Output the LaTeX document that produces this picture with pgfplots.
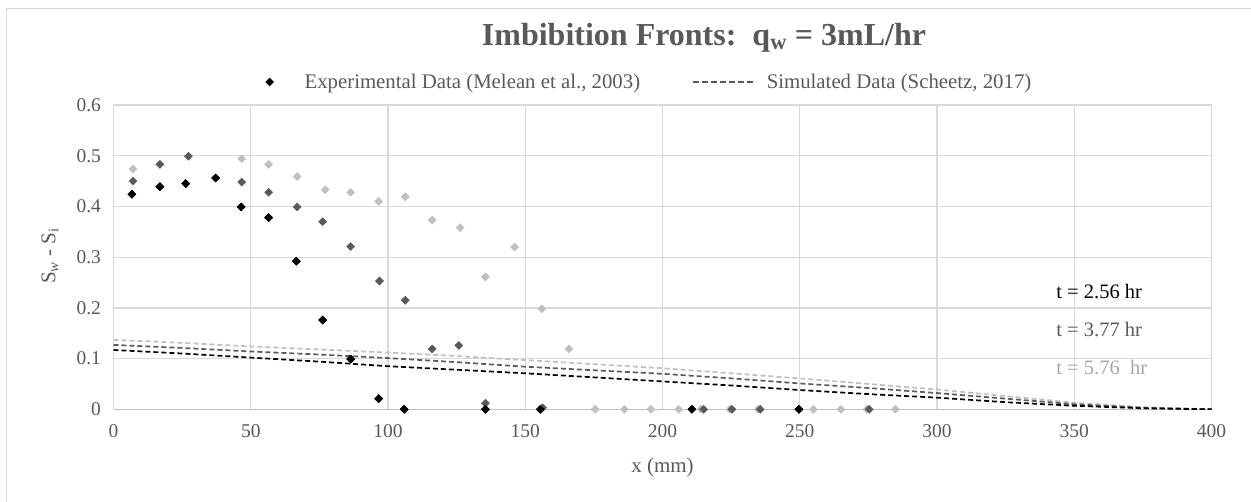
\documentclass[border=0pt]{standalone}
\usepackage{fontspec}
\setmainfont{Liberation Serif}
\usepackage{pgfplots}
\pgfplotsset{compat=1.18}
\definecolor{dg}{HTML}{595959}
\definecolor{lg}{HTML}{BFBFBF}
\definecolor{gridc}{HTML}{D9D9D9}
\definecolor{txt}{HTML}{595959}
\definecolor{mg}{HTML}{A6A6A6}
\pgfplotsset{
  legmark/.style={legend image code/.code={\draw[##1] plot coordinates {(8bp,0bp)}; \path[draw=none] (0bp,0bp) -- (41bp,0bp);}},
  legdash/.style={legend image code/.code={\draw[##1] (0bp,0bp) -- (63bp,0bp); \path[draw=none] (0bp,0bp) -- (72bp,0bp);}},
}
\begin{document}
\begin{tikzpicture}
\useasboundingbox (0,0) rectangle (1251bp,-502bp);
\draw[gridc, line width=1.2bp] (6.5bp,-600bp) -- (6.5bp,-8.5bp) -- (1400bp,-8.5bp);
\node[text=txt, font=\fontsize{32bp}{35bp}\selectfont\bfseries] at (704bp,-38bp) {Imbibition Fronts:\ \ q\textsubscript{w} = 3mL/hr};
\begin{axis}[
 at={(113.5bp,-409.3bp)}, anchor=south west,
 width=1098bp, height=304.3bp, scale only axis,
 xmin=0, xmax=400, ymin=0, ymax=0.6,
 xtick={0,50,100,150,200,250,300,350,400},
 xticklabels={0,50,100,150,200,250,300,350,400},
 ytick={0,0.1,0.2,0.3,0.4,0.5,0.6},
 yticklabels={0,0.1,0.2,0.3,0.4,0.5,0.6},
 grid=major, grid style={gridc, line width=1.3bp},
 major tick length=0pt,
 axis line style={draw=none},
 tick label style={text=txt, font=\fontsize{19.5bp}{22bp}\selectfont},
 yticklabel style={xshift=-9bp},
 xticklabel style={yshift=-12bp},
 xlabel={x (mm)},
 ylabel={S\textsubscript{\textit{w}} - S\textsubscript{i}},
 label style={text=txt, font=\fontsize{21bp}{24bp}\selectfont},
 xlabel style={at={(axis description cs:0.5,-0.19)}, anchor=center},
 ylabel style={at={(axis description cs:-0.0578,0.504)}, anchor=center},
 legend columns=2,
 legend cell align=left,
 legend style={at={(axis description cs:0.4863,1.0756)}, anchor=center, draw=none, fill=none,
   font=\fontsize{20.8bp}{23bp}\selectfont, text=txt,
   /tikz/every even column/.append style={column sep=50bp}},
]
\draw[color=lg, line width=1.4bp] (rel axis cs:0,0) -- (rel axis cs:1,0);
% experimental black (t = 2.56 hr)
\addplot[only marks, mark=square*, mark size=2.85bp, mark options={rotate=45, fill=black, draw=black}, legmark]
 coordinates {(6.7,0.424)(16.9,0.439)(26.3,0.445)(37.2,0.456)(46.5,0.399)(56.5,0.378)(66.6,0.292)(76.2,0.176)(86.4,0.099)(96.6,0.021)(105.9,0)(135.5,0)(155.5,0)(210.7,0)(249.7,0)};
\addlegendentry{Experimental Data (Melean et al., 2003)}
\addlegendimage{dg, line width=1.3bp, dash pattern=on 6bp off 3bp, legdash}
\addlegendentry{Simulated Data (Scheetz, 2017)}
% simulated lines
\addplot[forget plot, lg, line width=1.7bp, dash pattern=on 5bp off 3bp] coordinates {
(0,0.137)(25,0.131)(50,0.124)(75,0.118)(100,0.112)(125,0.105)(150,0.097)(175,0.089)(200,0.081)(225,0.071)(250,0.061)(275,0.050)(300,0.039)(325,0.026)(350,0.013)(375,0.004)(400,0)};
\addplot[forget plot, dg, line width=1.7bp, dash pattern=on 5bp off 3bp] coordinates {
(0,0.127)(25,0.121)(50,0.114)(75,0.108)(100,0.101)(125,0.093)(150,0.084)(175,0.077)(200,0.070)(225,0.061)(250,0.051)(275,0.042)(300,0.032)(325,0.021)(350,0.010)(375,0.003)(400,0)};
\addplot[forget plot, black, line width=1.7bp, dash pattern=on 5bp off 3bp] coordinates {
(0,0.117)(25,0.110)(50,0.102)(75,0.094)(100,0.085)(125,0.078)(150,0.071)(175,0.063)(200,0.055)(225,0.047)(250,0.038)(275,0.030)(300,0.023)(325,0.014)(350,0.007)(375,0.002)(400,0)};
% experimental light gray (t = 5.76 hr)
\addplot[forget plot, only marks, mark=square*, mark size=2.85bp, mark options={rotate=45, fill=lg, draw=lg}]
 coordinates {(7.1,0.474)(46.7,0.494)(56.5,0.483)(66.9,0.459)(77.1,0.433)(86.4,0.428)(96.6,0.410)(106.3,0.419)(116.1,0.373)(126.3,0.358)(135.5,0.261)(146.1,0.320)(156.0,0.198)(165.9,0.119)(175.5,0)(186.1,0)(195.8,0)(205.9,0)(214,0)(224.5,0)(234.8,0)(255.0,0)(265.0,0)(274.5,0)(284.8,0)};
% experimental dark gray (t = 3.77 hr)
\addplot[forget plot, only marks, mark=square*, mark size=2.85bp, mark options={rotate=45, fill=dg, draw=dg}]
 coordinates {(7.1,0.450)(16.9,0.483)(27.3,0.499)(46.7,0.448)(56.5,0.428)(66.9,0.399)(76.2,0.370)(86.4,0.321)(96.9,0.253)(106.3,0.215)(116.1,0.119)(125.8,0.126)(135.5,0.012)(156.3,0.003)(215.0,0)(225.3,0)(235.6,0)(275.3,0)};
% black again on top
\addplot[forget plot, only marks, mark=square*, mark size=2.85bp, mark options={rotate=45, fill=black, draw=black}]
 coordinates {(6.7,0.424)(16.9,0.439)(26.3,0.445)(37.2,0.456)(46.5,0.399)(56.5,0.378)(66.6,0.292)(76.2,0.176)(86.4,0.099)(96.6,0.021)(105.9,0)(135.5,0)(155.5,0)(210.7,0)(249.7,0)};
\node[anchor=west, text=black, font=\fontsize{20.5bp}{23bp}\selectfont] at (axis cs:342.2,0.232) {t = 2.56 hr};
\node[anchor=west, text=dg, font=\fontsize{20.5bp}{23bp}\selectfont] at (axis cs:342.2,0.158) {t = 3.77 hr};
\node[anchor=west, text=mg, font=\fontsize{20.5bp}{23bp}\selectfont] at (axis cs:342.2,0.082) {t = 5.76\ \ hr};
\end{axis}
\end{tikzpicture}
\end{document}
